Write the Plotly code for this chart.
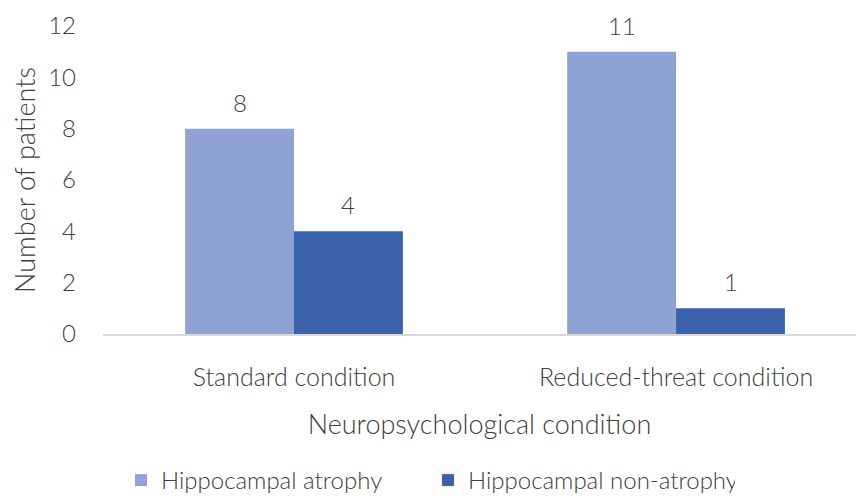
import plotly.graph_objects as go

categories = ["Standard condition", "Reduced-threat condition"]
atrophy = [8, 11]
non_atrophy = [4, 1]
series_names = ["Hippocampal atrophy", "Hippocampal non-atrophy"]
y_ticks = [0, 2, 4, 6, 8, 10, 12]

FONT = "Lato"
TXT = "#404040"
W = 300
COLORS = ["#8EA2D3", "#3A62AB"]

WIDTH, HEIGHT = 856, 503
ML, MR, MT, MB = 103, 0, 26, 169
BARGAP = 0.43
XRANGE = [-0.5, 1.471]

fig = go.Figure()
for name, vals, col in zip(series_names, [atrophy, non_atrophy], COLORS):
    fig.add_trace(go.Bar(x=categories, y=vals, name=name,
                         marker=dict(color=col, line=dict(width=0))))

# value labels above bars (offset derived from bar geometry)
plot_w = WIDTH - ML - MR
px_per_cat = plot_w / (XRANGE[1] - XRANGE[0])
bar_w = px_per_cat * (1 - BARGAP) / len(series_names)
for i, vals in enumerate([atrophy, non_atrophy]):
    shift = (i - (len(series_names) - 1) / 2) * bar_w
    for cat, v in zip(categories, vals):
        fig.add_annotation(x=cat, y=v, text=str(v), showarrow=False,
                           xshift=shift, yshift=10, yanchor="bottom",
                           font=dict(size=24, color=TXT, family=FONT, weight=W))

fig.update_layout(
    width=WIDTH, height=HEIGHT,
    margin=dict(l=ML, r=MR, t=MT, b=MB),
    paper_bgcolor="white", plot_bgcolor="white",
    barmode="group", bargap=BARGAP, bargroupgap=0,
    font=dict(family=FONT, size=24, color=TXT, weight=W),
    showlegend=True,
    legend=dict(orientation="h", xref="container", yref="container",
                x=0.5, xanchor="center", y=-0.008, yanchor="bottom",
                font=dict(size=24, color=TXT, family=FONT, weight=W),
                itemwidth=30, entrywidth=262, traceorder="normal"),
    xaxis=dict(range=XRANGE, showline=True, linecolor="#D9D9D9", linewidth=1.5,
               ticks="", showgrid=False, tickfont=dict(size=25, color=TXT, weight=W),
               ticklabelstandoff=20, automargin=False,
               title=dict(text="Neuropsychological condition",
                          font=dict(size=27, color=TXT, weight=W), standoff=25)),
    yaxis=dict(range=[0, 12], tickvals=y_ticks, showgrid=False, zeroline=False,
               showline=False, ticks="", tickfont=dict(size=24, color=TXT, weight=W),
               ticklabelstandoff=26, automargin=False,
               title=dict(text="Number of patients",
                          font=dict(size=27, color=TXT, weight=W), standoff=4)),
)

fig.write_html("out.html", config={"displayModeBar": False},
               post_script="document.body.style.margin='0';")
